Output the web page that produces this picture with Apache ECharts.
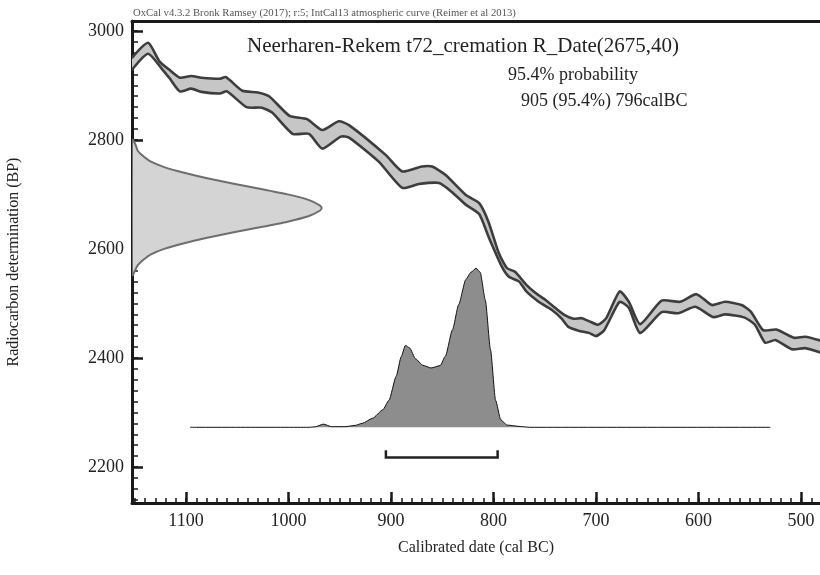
<!DOCTYPE html>
<html>
<head>
<meta charset="utf-8">
<script src="https://cdn.jsdelivr.net/npm/echarts@6/dist/echarts.min.js"></script>
<style>
  html, body { margin: 0; padding: 0; background: #ffffff; }
  #chart { width: 820px; height: 575px; }
</style>
</head>
<body>
<div id="chart"></div>
<script>
// IntCal13 calibration band, upper and lower 1σ edges, as [cal BC, BP]
const curveUpper = [
  [1153, 2950], [1137, 2978], [1126, 2944], [1116, 2928], [1106, 2914], [1095, 2917],
  [1085, 2914], [1067, 2912], [1061, 2915], [1045, 2890], [1030, 2887], [1019, 2880],
  [999, 2844], [982, 2838], [967, 2818], [951, 2834], [941, 2827], [905, 2772],
  [889, 2742], [870, 2751], [860, 2751], [847, 2736], [827, 2699], [814, 2684],
  [805, 2650], [795, 2593], [787, 2565], [779, 2558], [768, 2534], [759, 2519],
  [749, 2506], [740, 2492], [731, 2479], [722, 2472], [714, 2473], [705, 2466],
  [698, 2461], [690, 2473], [677, 2522], [668, 2503], [657, 2462], [636, 2505],
  [618, 2503], [602, 2517], [587, 2497], [574, 2503], [558, 2497], [549, 2485],
  [537, 2451], [524, 2452], [507, 2437], [496, 2439], [481, 2432]
];
const curveLower = [
  [1153, 2928], [1137, 2958], [1123, 2929], [1116, 2913], [1106, 2889], [1095, 2894],
  [1085, 2888], [1067, 2885], [1060, 2889], [1041, 2860], [1026, 2859], [1016, 2850],
  [996, 2811], [980, 2811], [967, 2784], [949, 2806], [941, 2804], [912, 2760],
  [889, 2712], [873, 2719], [853, 2721], [841, 2705], [827, 2681], [814, 2664],
  [805, 2623], [792, 2568], [785, 2549], [775, 2540], [768, 2522], [756, 2503],
  [743, 2488], [734, 2473], [727, 2457], [717, 2450], [707, 2446], [700, 2440],
  [692, 2451], [677, 2503], [668, 2492], [657, 2446], [636, 2484], [620, 2482],
  [603, 2494], [586, 2475], [574, 2480], [555, 2474], [545, 2461], [535, 2428],
  [525, 2433], [509, 2416], [496, 2418], [481, 2410]
];

// Radiocarbon measurement R_Date(2675,40): relative probability by BP
const dateBP = [2800, 2790, 2780, 2770, 2760, 2750, 2740, 2730, 2720, 2710, 2700, 2690,
                2680, 2675, 2670, 2660, 2650, 2640, 2630, 2620, 2610, 2600, 2590, 2580,
                2570, 2560, 2552];
const dateProb = [0.005, 0.02, 0.03, 0.06, 0.10, 0.17, 0.27, 0.39, 0.53, 0.68, 0.82, 0.93,
                  0.99, 1.00, 0.99, 0.93, 0.82, 0.68, 0.53, 0.39, 0.27, 0.17, 0.10, 0.06,
                  0.03, 0.015, 0.005];

// Calibrated date: relative probability by cal BC
const calYears = [1096, 980, 974, 966, 958, 945, 935, 928, 918, 908, 902, 895, 890, 886,
                  882, 876, 869, 861, 852, 847, 840, 834, 827, 822, 817, 813, 808, 803,
                  798, 793, 787, 772, 765, 530];
const calProb = [0, 0, 0.003, 0.02, 0.004, 0.004, 0.012, 0.025, 0.057, 0.11, 0.17, 0.32,
                 0.445, 0.515, 0.5, 0.43, 0.39, 0.373, 0.388, 0.447, 0.614, 0.772, 0.93,
                 0.975, 1.0, 0.975, 0.8, 0.49, 0.17, 0.048, 0.014, 0.004, 0, 0];

// 95.4% range, cal BC
const range954 = [905, 796];

// Axis tick values
const yearTicks = [1100, 1000, 900, 800, 700, 600, 500];
const bpTicks = [2200, 2400, 2600, 2800, 3000];

const yearMinor = [];
for (let y = 490; y <= 1150; y += 10) yearMinor.push(y);
const bpMinor = [];
for (let b = 2140; b <= 3000; b += 20) bpMinor.push(b);

const SERIF = '"Liberation Serif", "DejaVu Serif", serif';
const INK = '#1a1a1a';

// bracket placement below the calibrated distribution (probability-axis units)
const BRACKET_Y = -0.19;
const BRACKET_TOP = -0.145;

const chart = echarts.init(document.getElementById('chart'), null, { renderer: 'canvas' });

const plainNumber = function (v) { return String(v); };

const hiddenAxis = {
  axisLine: { show: false, onZero: false },
  axisTick: { show: false },
  axisLabel: { show: false },
  splitLine: { show: false }
};

chart.setOption({
  animation: false,
  backgroundColor: '#ffffff',
  grid: { left: 132, right: 0, top: 21, bottom: 72, containLabel: false, outerBoundsMode: 'none' },
  xAxis: [
    {
      type: 'value', position: 'bottom', min: 481.5, max: 1152.7, inverse: true,
      axisLine: { show: true, onZero: false, lineStyle: { color: INK, width: 3 } },
      axisTick: { show: true, inside: true, length: 11, customValues: yearTicks,
                  lineStyle: { color: INK, width: 2.5 } },
      axisLabel: { show: true, customValues: yearTicks, margin: 9, formatter: plainNumber,
                   fontFamily: SERIF, fontSize: 18, color: '#222' },
      splitLine: { show: false },
      name: 'Calibrated date (cal BC)', nameLocation: 'middle', nameGap: 37,
      nameTextStyle: { fontFamily: SERIF, fontSize: 16, color: '#222' }
    },
    Object.assign({}, hiddenAxis, {
      type: 'value', position: 'bottom', min: 481.5, max: 1152.7, inverse: true,
      axisTick: { show: true, inside: true, length: 5, customValues: yearMinor,
                  lineStyle: { color: INK, width: 1.5 } }
    }),
    Object.assign({}, hiddenAxis, {
      type: 'value', position: 'top', min: 0, max: 3.627,
      axisLine: { show: true, onZero: false, lineStyle: { color: INK, width: 3 } }
    })
  ],
  yAxis: [
    {
      type: 'value', position: 'left', min: 2134, max: 3018,
      axisLine: { show: true, onZero: false, lineStyle: { color: INK, width: 3 } },
      axisTick: { show: true, inside: true, length: 11, customValues: bpTicks,
                  lineStyle: { color: INK, width: 2.5 } },
      axisLabel: { show: true, customValues: bpTicks, margin: 8, formatter: plainNumber,
                   fontFamily: SERIF, fontSize: 18, color: '#222' },
      splitLine: { show: false },
      name: 'Radiocarbon determination (BP)', nameLocation: 'middle', nameGap: 110,
      nameRotate: 90,
      nameTextStyle: { fontFamily: SERIF, fontSize: 16, color: '#222' }
    },
    Object.assign({}, hiddenAxis, {
      type: 'value', position: 'left', min: 2134, max: 3018,
      axisTick: { show: true, inside: true, length: 6, customValues: bpMinor,
                  lineStyle: { color: INK, width: 1.5 } }
    }),
    Object.assign({}, hiddenAxis, {
      type: 'value', position: 'right', min: -0.476, max: 2.555
    })
  ],
  graphic: [
    { type: 'text', left: 133, top: 8,
      style: { text: 'OxCal v4.3.2 Bronk Ramsey (2017); r:5; IntCal13 atmospheric curve (Reimer et al 2013)',
               font: '10.7px ' + SERIF, fill: '#555' } },
    { type: 'text', left: 247, top: 36,
      style: { text: 'Neerharen-Rekem t72_cremation R_Date(2675,40)',
               font: '21px ' + SERIF, fill: '#222' } },
    { type: 'text', left: 508, top: 66,
      style: { text: '95.4% probability', font: '18px ' + SERIF, fill: '#222' } },
    { type: 'text', left: 521, top: 92,
      style: { text: range954[0] + ' (95.4%) ' + range954[1] + 'calBC',
               font: '18px ' + SERIF, fill: '#222' } }
  ],
  series: [
    {
      // calibration curve band with its two edges
      type: 'custom', name: 'IntCal13',
      xAxisIndex: 0, yAxisIndex: 0, clip: true, silent: true,
      data: [[800, 2700]],
      renderItem: function (params, api) {
        const up = curveUpper.map(function (p) { return api.coord(p); });
        const lo = curveLower.map(function (p) { return api.coord(p); });
        return {
          type: 'group',
          children: [
            { type: 'polygon', shape: { points: up.concat(lo.slice().reverse()), smooth: 0.2 },
              style: { fill: '#c6c6c6', stroke: null } },
            { type: 'polyline', shape: { points: up, smooth: 0.2 },
              style: { stroke: '#3d3d3d', lineWidth: 2.6, fill: null } },
            { type: 'polyline', shape: { points: lo, smooth: 0.2 },
              style: { stroke: '#3d3d3d', lineWidth: 2.6, fill: null } }
          ]
        };
      }
    },
    {
      // measured radiocarbon date, drawn against the BP axis
      type: 'custom', name: 'R_Date',
      xAxisIndex: 2, yAxisIndex: 0, clip: true, silent: true,
      data: [[0.5, 2675]],
      renderItem: function (params, api) {
        const pts = [api.coord([0, dateBP[0]])];
        dateBP.forEach(function (b, i) { pts.push(api.coord([dateProb[i], b])); });
        pts.push(api.coord([0, dateBP[dateBP.length - 1]]));
        return {
          type: 'polygon', shape: { points: pts, smooth: 0.2 },
          style: { fill: '#d4d4d4', stroke: '#6e6e6e', lineWidth: 2 }
        };
      }
    },
    {
      // calibrated date distribution
      type: 'line', name: 'Calibrated',
      xAxisIndex: 0, yAxisIndex: 2,
      data: calYears.map(function (y, i) { return [y, calProb[i]]; }),
      showSymbol: false, smooth: 0.2, smoothMonotone: 'x',
      lineStyle: { color: '#111', width: 1 },
      areaStyle: { color: '#8d8d8d', opacity: 1 },
      z: 3
    },
    {
      // 95.4% range bracket
      type: 'line', name: 'Range',
      xAxisIndex: 0, yAxisIndex: 2,
      data: [[range954[0], BRACKET_TOP], [range954[0], BRACKET_Y],
             [range954[1], BRACKET_Y], [range954[1], BRACKET_TOP]],
      showSymbol: false,
      lineStyle: { color: '#222', width: 2.5, cap: 'butt', join: 'miter' },
      z: 3
    }
  ]
});
</script>
</body>
</html>
